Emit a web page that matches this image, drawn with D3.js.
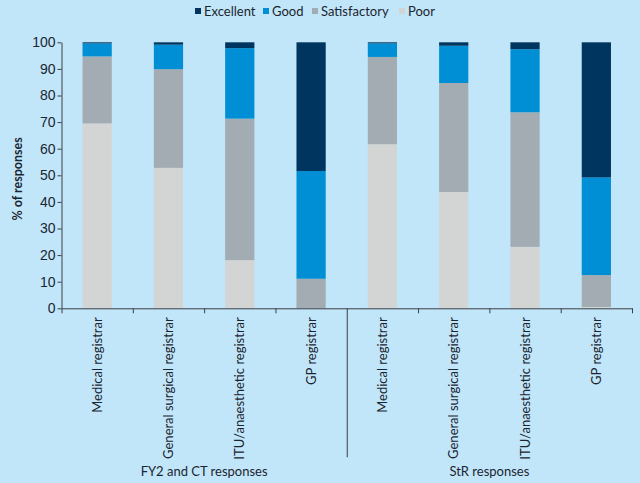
<!DOCTYPE html>
<html>
<head>
<meta charset="utf-8">
<script src="https://cdn.jsdelivr.net/npm/d3@7/dist/d3.min.js"></script>
<style>
  body { margin: 0; background: #c2e6f9; }
  svg { display: block; font-family: Lato, "Open Sans", sans-serif; }
</style>
</head>
<body>
<svg id="chart"></svg>
<script>
var width = 640, height = 483;

// data (% of responses)
var categories = ["Medical registrar", "General surgical registrar", "ITU/anaesthetic registrar", "GP registrar",
                  "Medical registrar", "General surgical registrar", "ITU/anaesthetic registrar", "GP registrar"];
var groups = ["FY2 and CT responses", "StR responses"];
var poor         = [69.5, 52.8, 18.1, 0,    61.7, 43.7, 23.1, 0.5];
var satisfactory = [25.2, 37.1, 53.2, 11.1, 32.8, 41.0, 50.6, 12.0];
var good         = [4.9,  9.2,  26.5, 40.5, 5.1,  14.0, 23.7, 36.7];
var excellent    = [0.4,  0.9,  2.2,  48.4, 0.4,  1.3,  2.6,  50.8];
var yTicks = [0, 10, 20, 30, 40, 50, 60, 70, 80, 90, 100];

var seriesNames = ["Poor", "Satisfactory", "Good", "Excellent"];
var colors = { "Excellent": "#00355f", "Good": "#008fd4", "Satisfactory": "#a3abb3", "Poor": "#d3d5d5" };

var margin = { left: 61.5, right: 8, top: 42.3, bottom: 174.7 };

var svg = d3.select("#chart")
    .attr("width", width)
    .attr("height", height);

var x0 = margin.left, x1 = width - margin.right;
var yBottom = height - margin.bottom;

var idx = d3.range(categories.length);

var x = d3.scaleBand()
    .domain(idx)
    .range([x0, x1])
    .paddingInner(0.59)
    .paddingOuter(0.295);

var xEdge = d3.scaleLinear().domain([0, categories.length]).range([x0, x1]);

var y = d3.scaleLinear().domain([0, 100]).range([yBottom, margin.top]);

// build table for the stack
var table = idx.map(function(i) {
    return { i: i, Poor: poor[i], Satisfactory: satisfactory[i], Good: good[i], Excellent: excellent[i] };
});

var stack = d3.stack().keys(seriesNames)(table);

svg.append("g")
    .selectAll("g")
    .data(stack)
    .enter()
    .append("g")
    .attr("fill", function(d) { return colors[d.key]; })
    .selectAll("rect")
    .data(function(d) { return d; })
    .enter()
    .append("rect")
    .attr("x", function(d) { return x(d.data.i); })
    .attr("width", x.bandwidth())
    .attr("y", function(d) { return y(d[1]); })
    .attr("height", function(d) { return y(d[0]) - y(d[1]); });

// y axis
var yAxis = svg.append("g")
    .attr("transform", "translate(" + x0 + ",0)")
    .call(d3.axisLeft(y).tickValues(yTicks).tickSize(4).tickSizeOuter(0));
yAxis.select(".domain").attr("stroke", "#3a3f45");
yAxis.selectAll(".tick line").attr("stroke", "#3a3f45");
yAxis.selectAll(".tick text")
    .attr("x", -6)
    .style("font-size", "14px")
    .attr("fill", "#1b2530");

svg.append("text")
    .attr("transform", "translate(22," + 179 + ") rotate(-90)")
    .attr("text-anchor", "middle")
    .style("font-size", "12.5px")
    .style("font-weight", "bold")
    .attr("fill", "#1b2530")
    .text("% of responses");

// x axis with ticks between categories
var xAxis = svg.append("g")
    .attr("transform", "translate(0," + yBottom + ")")
    .call(d3.axisBottom(xEdge).tickValues(d3.range(categories.length + 1)).tickSize(5).tickSizeOuter(0).tickFormat(""));
xAxis.select(".domain").attr("stroke", "#3a3f45");
xAxis.selectAll(".tick line")
    .attr("stroke", "#3a3f45")
    .attr("y2", function(d) { return d === 4 ? 149 : 5; });

// category labels
svg.append("g")
    .selectAll("text")
    .data(idx)
    .enter()
    .append("text")
    .attr("transform", function(i) {
        return "translate(" + (x(i) + x.bandwidth() / 2) + "," + (yBottom + 9) + ") rotate(-90)";
    })
    .attr("text-anchor", "end")
    .attr("dy", "0.35em")
    .style("font-size", "13px")
    .attr("fill", "#1b2530")
    .text(function(i) { return categories[i]; });

// group labels
svg.append("g")
    .selectAll("text")
    .data(groups)
    .enter()
    .append("text")
    .attr("x", function(d, g) { return (xEdge(g * 4) + xEdge(g * 4 + 4)) / 2; })
    .attr("y", 476)
    .attr("text-anchor", "middle")
    .style("font-size", "13px")
    .attr("fill", "#1b2530")
    .text(function(d) { return d; });

// legend
var legendItems = ["Excellent", "Good", "Satisfactory", "Poor"];
var legendX = [195, 263, 312, 399];
var legend = svg.append("g");
legendItems.forEach(function(name, k) {
    legend.append("rect")
        .attr("x", legendX[k]).attr("y", 8)
        .attr("width", 6).attr("height", 6)
        .attr("fill", colors[name]);
    legend.append("text")
        .attr("x", legendX[k] + 9).attr("y", 11)
        .attr("dy", "0.35em")
        .style("font-size", "13px")
        .attr("fill", "#1b2530")
        .text(name);
});
</script>
</body>
</html>
